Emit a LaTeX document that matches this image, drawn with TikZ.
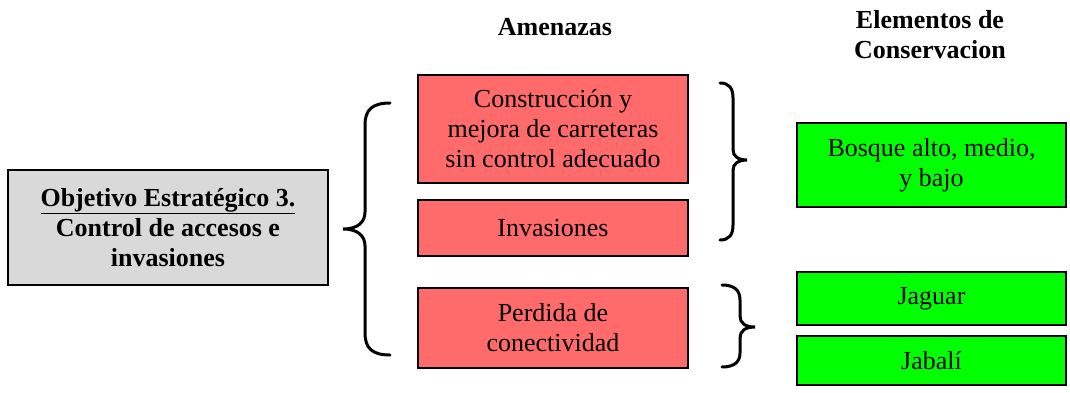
\documentclass[tikz,border=0pt]{standalone}
\usepackage{fontspec}
\setmainfont{Liberation Serif}
\definecolor{threat}{HTML}{FF6B6B}
\definecolor{target}{HTML}{00FF00}
\definecolor{goal}{HTML}{D9D9D9}
\begin{document}
\begin{tikzpicture}[x=1pt,y=-1pt,
  box/.style={draw=black,line width=1.5pt,inner sep=0pt,align=center,
    font=\fontsize{26}{30}\selectfont},
  head/.style={inner sep=0pt,align=center,font=\fontsize{26}{30}\selectfont\bfseries},
  bracepath/.style={line width=3pt,line cap=round}]
\useasboundingbox (0,0) rectangle (1070,392);
% headers
\node[head] (hA) at (555,27) {Amenazas};
\node[head] (hE) at (930,35) {Elementos de\\Conservacion};
% objective
\node[box,fill=goal,minimum width=320pt,minimum height=115pt,font=\fontsize{26}{30}\selectfont\bfseries] (obj) at (168,227.5)
  {\underline{Objetivo Estratégico 3.}\\Control de accesos e\\invasiones};
% threats
\node[box,fill=threat,minimum width=270pt,minimum height=108pt] (t1) at (553,129)
  {Construcción y\\mejora de carreteras\\sin control adecuado};
\node[box,fill=threat,minimum width=270pt,minimum height=56pt] (t2) at (553,228) {Invasiones};
\node[box,fill=threat,minimum width=270pt,minimum height=80pt] (t3) at (553,328) {Perdida de\\conectividad};
% targets
\node[box,fill=target,minimum width=269pt,minimum height=84pt] (c1) at (931.5,165) {Bosque alto, medio,\\y bajo};
\node[box,fill=target,minimum width=269pt,minimum height=53pt] (c2) at (931.5,298.5) {Jaguar};
\node[box,fill=target,minimum width=269pt,minimum height=49pt] (c3) at (931.5,360.5) {Jabalí};
% braces
\draw[bracepath] (390,103) .. controls (372,103) and (365,110) .. (365,125) -- (365,212)
  .. controls (365,222) and (358,229) .. (343,229)
  .. controls (358,229) and (365,236) .. (365,246) -- (365,333)
  .. controls (365,348) and (372,355) .. (390,355);
\draw[bracepath] (720,83) .. controls (729,83) and (733,88) .. (733,98) -- (733,150)
  .. controls (733,156) and (738,160) .. (747,160)
  .. controls (738,160) and (733,164) .. (733,170) -- (733,225)
  .. controls (733,235) and (729,240) .. (720,240);
\draw[bracepath] (722,285) .. controls (734,285) and (740,290) .. (740,300) -- (740,316)
  .. controls (740,323) and (745,327) .. (755,327)
  .. controls (745,327) and (740,331) .. (740,338) -- (740,353)
  .. controls (740,362) and (734,367) .. (722,367);
\end{tikzpicture}
\end{document}
